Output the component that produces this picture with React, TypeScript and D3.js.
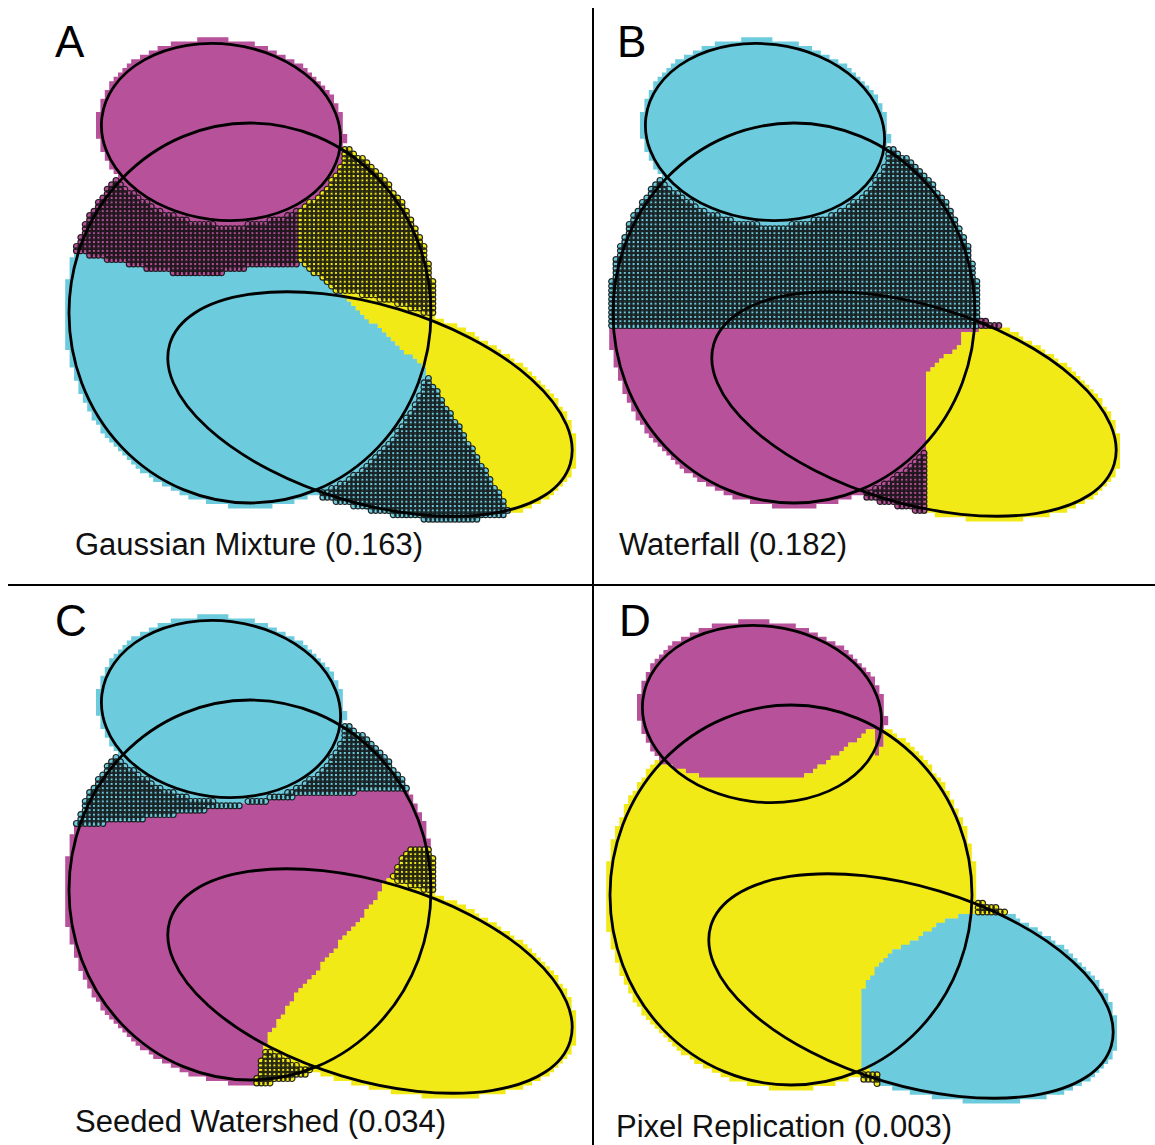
import React, { useMemo } from 'react';
import * as d3 from 'd3';

type Pt = [number, number];

const W = 1155;
const H = 1145;

// The three outlined shapes, in panel units: top ellipse, middle ellipse, tilted ellipse
const shapeCx = [221, 250, 370];
const shapeCy = [132, 313, 404];
const shapeRx = [120, 181, 209];
const shapeRy = [88, 190, 99];
const shapeAngle = [7, 0, 16.7];

// Panels
const panelLetters = ['A', 'B', 'C', 'D'];
const panelMethods = ['Gaussian Mixture', 'Waterfall', 'Seeded Watershed', 'Pixel Replication'];
const panelScores = ['0.163', '0.182', '0.034', '0.003'];
const panelOffsetX = [0, 544, 0, 541];
const panelOffsetY = [0, 0, 577, 582];
const letterX = [55, 73, 55, 78];
const letterY = [57, 57, 59, 54];

const MAGENTA = '#b75199';
const CYAN = '#6ccbdc';
const YELLOW = '#f2ea17';
// class colours per panel: [top, middle, tilted]
const panelPalette = [
  [MAGENTA, CYAN, YELLOW],
  [CYAN, MAGENTA, YELLOW],
  [CYAN, MAGENTA, YELLOW],
  [MAGENTA, YELLOW, CYAN],
];

// Label boundaries of each segmentation (panel units)
// A: lower edge of the band assigned to the top class (x -> y)
const bandA: Pt[] = [[60, 248], [100, 258], [150, 270], [205, 277], [250, 268], [300, 266]];
// A: split between middle and tilted classes (y -> x)
const splitA: Pt[] = [[0, 300], [262, 300], [300, 347], [367, 423], [515, 513], [600, 525]];
// B: rows above this go to the top class
const bandB = 330;
// B: left edge and upper edge of the tilted class (x -> y)
const splitBx = 383;
const topB: Pt[] = [[383, 372], [400, 357], [414, 349], [420, 330], [600, 330]];
// C: lower edge of the band assigned to the top class (x -> y)
const bandC: Pt[] = [[60, 248], [100, 247], [160, 240], [193, 235], [233, 230], [293, 220], [393, 213], [440, 210]];
// C: split between middle and tilted classes (y -> x), starting row
const startC = 270;
const splitC: Pt[] = [[270, 412], [280, 400], [300, 392], [307, 385], [330, 370], [350, 353], [377, 330], [400, 313], [417, 297], [437, 283], [457, 270], [480, 262], [520, 250]];
// D: lower edge of the top class (x -> y)
const capD: Pt[] = [[90, 175], [106, 177], [128, 183], [149, 192], [179, 198], [244, 198], [268, 192], [289, 178], [313, 160], [323, 152], [332, 146], [338, 400]];
// D: split between middle and tilted classes (y -> x), starting row
const startD = 332;
const splitD: Pt[] = [[330, 428], [337, 409], [345, 393], [357, 376], [367, 356], [377, 343], [390, 333], [407, 323], [413, 319], [484, 319], [490, 336], [600, 336]];

const GRID_STEP = 4.4;
const GRID_X0 = 50;
const GRID_Y0 = 22;
const GRID_NX = 130;
const GRID_NY = 120;
const PAD = 4.5;
const DOT_R = 2.9;

function interp(points: Pt[], t: number): number {
  if (t <= points[0][0]) return points[0][1];
  for (let k = 1; k < points.length; k++) {
    if (t <= points[k][0]) {
      const [t0, v0] = points[k - 1];
      const [t1, v1] = points[k];
      return v0 + ((v1 - v0) * (t - t0)) / (t1 - t0);
    }
  }
  return points[points.length - 1][1];
}

function insideShape(k: number, x: number, y: number, pad: number): boolean {
  const a = (shapeAngle[k] * Math.PI) / 180;
  const dx = x - shapeCx[k];
  const dy = y - shapeCy[k];
  const u = dx * Math.cos(a) + dy * Math.sin(a);
  const v = -dx * Math.sin(a) + dy * Math.cos(a);
  return (u / (shapeRx[k] + pad)) ** 2 + (v / (shapeRy[k] + pad)) ** 2 <= 1;
}

type Assign = (x: number, y: number, m: boolean[]) => number;

const assigners: Assign[] = [
  (x, y, m) => {
    if (m[0]) return 0;
    if (x > interp(splitA, y)) return 2;
    if (x < 300 && y < interp(bandA, x)) return 0;
    return 1;
  },
  (x, y, m) => {
    if (m[0]) return 0;
    if (y < bandB) return m[2] && !m[1] ? 1 : 0;
    if (x >= splitBx && (!m[1] || y > interp(topB, x))) return 2;
    return 1;
  },
  (x, y, m) => {
    if (m[0]) return 0;
    if (y < interp(bandC, x)) return 0;
    if (y > startC && x > interp(splitC, y)) return 2;
    return 1;
  },
  (x, y, m) => {
    if (m[0] && y < interp(capD, x)) return 0;
    if (y >= startD && x > interp(splitD, y)) return 2;
    return 1;
  },
];

type Cell = { i: number; j: number; x: number; y: number; cls: number; hatched: boolean };

function buildCells(p: number): Cell[] {
  const cells: Cell[] = [];
  for (let j = 0; j < GRID_NY; j++) {
    for (let i = 0; i < GRID_NX; i++) {
      const x = GRID_X0 + i * GRID_STEP;
      const y = GRID_Y0 + j * GRID_STEP;
      const m = [0, 1, 2].map((k) => insideShape(k, x, y, PAD));
      if (!m[0] && !m[1] && !m[2]) continue;
      const cls = assigners[p](x, y, m);
      cells.push({ i, j, x, y, cls, hatched: !m[cls] });
    }
  }
  return cells;
}

function Panel({ p }: { p: number }) {
  const sx = d3.scaleLinear().domain([0, 560]).range([panelOffsetX[p], panelOffsetX[p] + 560]);
  const sy = d3.scaleLinear().domain([0, 560]).range([panelOffsetY[p], panelOffsetY[p] + 560]);
  const cells = useMemo(() => buildCells(p), [p]);
  const half = GRID_STEP / 2;
  const palette = panelPalette[p];

  // solid cells, merged into horizontal runs per class
  const runPaths = [0, 1, 2].map((k) => {
    const path = d3.path();
    const byRow = d3.group(cells.filter((c) => c.cls === k), (c) => c.j);
    byRow.forEach((row) => {
      row.sort((a, b) => a.i - b.i);
      let start = row[0];
      let prev = row[0];
      const flush = () => {
        const x0 = sx(start.x - half) - 0.2;
        const x1 = sx(prev.x + half) + 0.2;
        const y0 = sy(start.y - half) - 0.2;
        const y1 = sy(start.y + half) + 0.2;
        path.rect(x0, y0, x1 - x0, y1 - y0);
      };
      for (let n = 1; n < row.length; n++) {
        const c = row[n];
        if (c.i !== prev.i + 1) {
          flush();
          start = c;
        }
        prev = c;
      }
      flush();
    });
    return path.toString();
  });

  // cells given to a class whose shape does not hold them: ringed markers
  const dotPaths = [0, 1, 2].map((k) => {
    const path = d3.path();
    const r = sx(DOT_R) - sx(0);
    cells
      .filter((c) => c.cls === k && c.hatched)
      .forEach((c) => {
        const cx = sx(c.x);
        const cy = sy(c.y);
        path.moveTo(cx + r, cy);
        path.arc(cx, cy, r, 0, 2 * Math.PI);
      });
    return path.toString();
  });

  return (
    <g>
      {runPaths.map((d, k) => (
        <path key={'r' + k} d={d} fill={palette[k]} />
      ))}
      {dotPaths.map((d, k) => (
        <path key={'d' + k} d={d} fill={palette[k]} stroke="#111" strokeWidth={1.2} strokeOpacity={0.9} />
      ))}
      {[0, 1, 2].map((k) => {
        const cx = sx(shapeCx[k]);
        const cy = sy(shapeCy[k]);
        return (
          <ellipse
            key={'e' + k}
            cx={cx}
            cy={cy}
            rx={sx(shapeCx[k] + shapeRx[k]) - cx}
            ry={sy(shapeCy[k] + shapeRy[k]) - cy}
            transform={`rotate(${shapeAngle[k]} ${cx} ${cy})`}
            fill="none"
            stroke="#000"
            strokeWidth={2.8}
          />
        );
      })}
      <text
        x={sx(letterX[p])}
        y={sy(letterY[p])}
        fontFamily="'Liberation Sans', Arial, sans-serif"
        fontSize={44}
        fill="#000"
      >
        {panelLetters[p]}
      </text>
      <text
        x={sx(75)}
        y={sy(555)}
        fontFamily="'Liberation Sans', Arial, sans-serif"
        fontSize={31}
        fill="#111"
      >
        {`${panelMethods[p]} (${panelScores[p]})`}
      </text>
    </g>
  );
}

export default function App() {
  return (
    <svg
      width={W}
      height={H}
      viewBox={`0 0 ${W} ${H}`}
      style={{ position: 'absolute', left: 0, top: 0, background: '#fff' }}
    >
      <rect x={0} y={0} width={W} height={H} fill="#fff" />
      {[0, 1, 2, 3].map((p) => (
        <Panel key={p} p={p} />
      ))}
      <line x1={593} y1={8} x2={593} y2={H} stroke="#000" strokeWidth={2} />
      <line x1={8} y1={585} x2={W} y2={585} stroke="#000" strokeWidth={2} />
    </svg>
  );
}
